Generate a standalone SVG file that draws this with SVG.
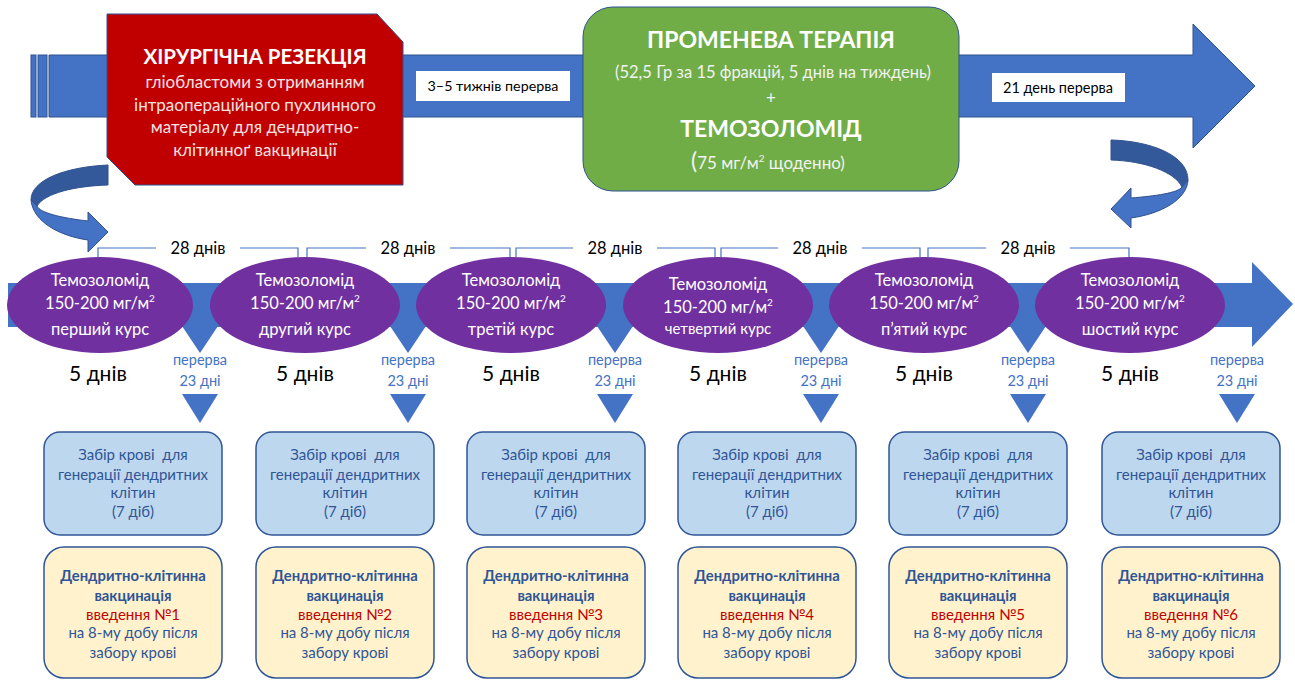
<svg xmlns="http://www.w3.org/2000/svg" width="1295" height="681" viewBox="0 0 1295 681">
<defs>
<style>
.t{font-family:Lato,"Liberation Sans",sans-serif;text-anchor:middle}
.b{font-weight:bold}
.arrow{fill:#4472C4;stroke:#2F528F;stroke-width:1}
.dark{fill:#34599A;stroke:#2F528F;stroke-width:1}
.ell{fill:#7030A0}
.et{fill:#FFFFFF;font-size:16.5px}
.days{fill:#000;font-size:21px}
.br{fill:none;stroke:#4472C4;stroke-width:1.2}
.d28{fill:#000;font-size:16.5px}
.gap{fill:#4472C4;font-size:14.5px}
.tri{fill:#4472C4}
.blue{fill:#BDD7EE;stroke:#2F5597;stroke-width:1.5}
.yel{fill:#FFF2CC;stroke:#2F5597;stroke-width:1.5}
.bt{fill:#2F5597;font-size:15px;white-space:pre}
.vb{font-weight:bold;font-size:14.8px}
.red{fill:#C00000}
</style>
</defs>

<g id="top-arrow">
<rect class="arrow" x="31" y="55" width="5" height="62"/>
<rect class="arrow" x="38" y="55" width="9" height="62"/>
<polygon class="arrow" points="49,55 1193,55 1193,24 1255,86 1193,148 1193,117 49,117"/>
</g>

<g id="surgery">
<polygon fill="#C00000" stroke="#2F528F" stroke-width="1" points="107,14 377,14 403,42 403,185 135,185 107,157"/>
<text class="t b" x="255" y="64" fill="#FFFFFF" font-size="20.5px">ХІРУРГІЧНА РЕЗЕКЦІЯ</text>
<text class="t" fill="#F6E2E2" font-size="17px"><tspan x="255" y="88">гліобластоми з отриманням</tspan><tspan x="255" y="111">інтраопераційного пухлинного</tspan><tspan x="255" y="133">матеріалу для дендритно-</tspan><tspan x="255" y="156">клітинноґ вакцинації</tspan></text>
</g>

<g id="gap1">
<rect x="416" y="71" width="154" height="30" fill="#FFFFFF"/>
<text class="t" x="493" y="91" fill="#000" font-size="14.3px">3–5 тижнів перерва</text>
</g>

<g id="radiotherapy">
<rect x="583" y="7" width="376" height="184" rx="30" fill="#70AD47" stroke="#2F528F" stroke-width="1"/>
<text class="t b" x="771" y="48" fill="#FFFFFF" font-size="23px">ПРОМЕНЕВА ТЕРАПІЯ</text>
<text class="t" x="773" y="78" fill="#F2F2F2" font-size="16.5px">(52,5 Гр за 15 фракцій, 5 днів на тиждень)</text>
<text class="t" x="771" y="104" fill="#F2F2F2" font-size="17px">+</text>
<text class="t b" x="771" y="137" fill="#FFFFFF" font-size="23px">ТЕМОЗОЛОМІД</text>
<text class="t" x="768" y="169" fill="#F2F2F2" font-size="17px"><tspan font-size="23px">(</tspan>75 мг/м<tspan font-size="10px" dy="-7">2</tspan><tspan dy="7"> щоденно)</tspan></text>
</g>

<g id="gap2">
<rect x="992" y="73" width="133" height="29" fill="#FFFFFF"/>
<text class="t" x="1058" y="93" fill="#000" font-size="14.5px">21 день перерва</text>
</g>

<g id="curve-left">
<path class="dark" d="M108,165 C65,167 31,180 31,200 L37,206 C45,193 75,186 108,185 Z"/>
<path class="arrow" d="M31,200 C33,222 60,236 88,240 L88,252 L108,232 L88,212 L88,221 C62,218 40,213 37,206 Z"/>
</g>

<g id="curve-right">
<path class="dark" d="M1111,140 C1150,141 1188,155 1188,180 L1182,187 C1175,172 1145,161 1111,160 Z"/>
<path class="arrow" d="M1188,180 C1187,200 1160,214 1131,218 L1131,228 L1111,209 L1131,188 L1131,198 C1155,196 1178,193 1182,187 Z"/>
</g>

<g id="timeline">
<polygon fill="#4472C4" points="8,283 1252,283 1252,262 1293,304 1252,347 1252,327 8,327"/>
<polygon class="tri" points="182,326 218,326 200,353"/>
<polygon class="tri" points="390,326 426,326 408,353"/>
<polygon class="tri" points="597,326 633,326 615,353"/>
<polygon class="tri" points="803,326 839,326 821,353"/>
<polygon class="tri" points="1010,326 1046,326 1028,353"/>
</g>

<g id="connectors">
<path class="br" d="M98,257 V248 H156 M240,248 H298 V257"/>
<path class="br" d="M307,257 V248 H366 M450,248 H510 V257"/>
<path class="br" d="M516,257 V248 H573 M657,248 H715 V257"/>
<path class="br" d="M721,257 V248 H778 M862,248 H920 V257"/>
<path class="br" d="M928,257 V248 H986 M1070,248 H1129 V257"/>
<text class="t d28" x="198" y="254">28 днів</text>
<text class="t d28" x="408" y="254">28 днів</text>
<text class="t d28" x="615" y="254">28 днів</text>
<text class="t d28" x="820" y="254">28 днів</text>
<text class="t d28" x="1028" y="254">28 днів</text>
<polygon class="tri" points="182,394 218,394 200,423"/>
<polygon class="tri" points="390,394 426,394 408,423"/>
<polygon class="tri" points="597,394 633,394 615,423"/>
<polygon class="tri" points="803,394 839,394 821,423"/>
<polygon class="tri" points="1010,394 1046,394 1028,423"/>
<polygon class="tri" points="1219,394 1255,394 1237,423"/>
</g>

<g id="course1">
<ellipse class="ell" cx="100" cy="305" rx="93" ry="48"/>
<text class="t et"><tspan x="100" y="286">Темозоломід</tspan><tspan x="100" y="309">150-200 мг/м<tspan font-size="10px" dy="-7">2</tspan></tspan><tspan x="100" y="335">перший курс</tspan></text>
<text class="t days" x="98" y="381">5 днів</text>
<text class="t gap"><tspan x="200" y="365">перерва</tspan><tspan x="200" y="386">23 дні</tspan></text>
</g>
<g id="course2">
<ellipse class="ell" cx="305" cy="305" rx="95" ry="48"/>
<text class="t et"><tspan x="305" y="286">Темозоломід</tspan><tspan x="305" y="309">150-200 мг/м<tspan font-size="10px" dy="-7">2</tspan></tspan><tspan x="305" y="335">другий курс</tspan></text>
<text class="t days" x="305" y="381">5 днів</text>
<text class="t gap"><tspan x="408" y="365">перерва</tspan><tspan x="408" y="386">23 дні</tspan></text>
</g>
<g id="course3">
<ellipse class="ell" cx="511" cy="305" rx="95" ry="48"/>
<text class="t et"><tspan x="511" y="286">Темозоломід</tspan><tspan x="511" y="309">150-200 мг/м<tspan font-size="10px" dy="-7">2</tspan></tspan><tspan x="511" y="335">третій курс</tspan></text>
<text class="t days" x="511" y="381">5 днів</text>
<text class="t gap"><tspan x="615" y="365">перерва</tspan><tspan x="615" y="386">23 дні</tspan></text>
</g>
<g id="course4">
<ellipse class="ell" cx="718" cy="305" rx="95" ry="48"/>
<text class="t et"><tspan x="718" y="290">Темозоломід</tspan><tspan x="718" y="313">150-200 мг/м<tspan font-size="10px" dy="-7">2</tspan></tspan><tspan x="718" y="334" font-size="15px">четвертий курс</tspan></text>
<text class="t days" x="718" y="381">5 днів</text>
<text class="t gap"><tspan x="821" y="365">перерва</tspan><tspan x="821" y="386">23 дні</tspan></text>
</g>
<g id="course5">
<ellipse class="ell" cx="924" cy="305" rx="95" ry="48"/>
<text class="t et"><tspan x="924" y="286">Темозоломід</tspan><tspan x="924" y="309">150-200 мг/м<tspan font-size="10px" dy="-7">2</tspan></tspan><tspan x="924" y="335">п’ятий курс</tspan></text>
<text class="t days" x="924" y="381">5 днів</text>
<text class="t gap"><tspan x="1028" y="365">перерва</tspan><tspan x="1028" y="386">23 дні</tspan></text>
</g>
<g id="course6">
<ellipse class="ell" cx="1130" cy="305" rx="95" ry="48"/>
<text class="t et"><tspan x="1130" y="286">Темозоломід</tspan><tspan x="1130" y="309">150-200 мг/м<tspan font-size="10px" dy="-7">2</tspan></tspan><tspan x="1130" y="335">шостий курс</tspan></text>
<text class="t days" x="1130" y="381">5 днів</text>
<text class="t gap"><tspan x="1237" y="365">перерва</tspan><tspan x="1237" y="386">23 дні</tspan></text>
</g>

<g id="blood1"><rect class="blue" x="44" y="432" width="178" height="103" rx="16"/>
<text class="t bt"><tspan x="133" y="460">Забір крові  для</tspan><tspan x="133" y="480">генерації дендритних</tspan><tspan x="133" y="498">клітин</tspan><tspan x="133" y="517">(7 діб)</tspan></text></g>
<g id="blood2"><rect class="blue" x="256" y="432" width="178" height="103" rx="16"/>
<text class="t bt"><tspan x="345" y="460">Забір крові  для</tspan><tspan x="345" y="480">генерації дендритних</tspan><tspan x="345" y="498">клітин</tspan><tspan x="345" y="517">(7 діб)</tspan></text></g>
<g id="blood3"><rect class="blue" x="467" y="432" width="178" height="103" rx="16"/>
<text class="t bt"><tspan x="556" y="460">Забір крові  для</tspan><tspan x="556" y="480">генерації дендритних</tspan><tspan x="556" y="498">клітин</tspan><tspan x="556" y="517">(7 діб)</tspan></text></g>
<g id="blood4"><rect class="blue" x="678" y="432" width="178" height="103" rx="16"/>
<text class="t bt"><tspan x="767" y="460">Забір крові  для</tspan><tspan x="767" y="480">генерації дендритних</tspan><tspan x="767" y="498">клітин</tspan><tspan x="767" y="517">(7 діб)</tspan></text></g>
<g id="blood5"><rect class="blue" x="889" y="432" width="178" height="103" rx="16"/>
<text class="t bt"><tspan x="978" y="460">Забір крові  для</tspan><tspan x="978" y="480">генерації дендритних</tspan><tspan x="978" y="498">клітин</tspan><tspan x="978" y="517">(7 діб)</tspan></text></g>
<g id="blood6"><rect class="blue" x="1102" y="432" width="178" height="103" rx="16"/>
<text class="t bt"><tspan x="1191" y="460">Забір крові  для</tspan><tspan x="1191" y="480">генерації дендритних</tspan><tspan x="1191" y="498">клітин</tspan><tspan x="1191" y="517">(7 діб)</tspan></text></g>

<g id="vacc1"><rect class="yel" x="44" y="547" width="178" height="131" rx="20"/>
<text class="t bt"><tspan x="133" y="581" class="vb">Дендритно-клітинна</tspan><tspan x="133" y="601" class="vb">вакцинація</tspan><tspan x="133" y="620" class="red">введення №1</tspan><tspan x="133" y="638">на 8-му добу після</tspan><tspan x="133" y="658">забору крові</tspan></text></g>
<g id="vacc2"><rect class="yel" x="256" y="547" width="178" height="131" rx="20"/>
<text class="t bt"><tspan x="345" y="581" class="vb">Дендритно-клітинна</tspan><tspan x="345" y="601" class="vb">вакцинація</tspan><tspan x="345" y="620" class="red">введення №2</tspan><tspan x="345" y="638">на 8-му добу після</tspan><tspan x="345" y="658">забору крові</tspan></text></g>
<g id="vacc3"><rect class="yel" x="467" y="547" width="178" height="131" rx="20"/>
<text class="t bt"><tspan x="556" y="581" class="vb">Дендритно-клітинна</tspan><tspan x="556" y="601" class="vb">вакцинація</tspan><tspan x="556" y="620" class="red">введення №3</tspan><tspan x="556" y="638">на 8-му добу після</tspan><tspan x="556" y="658">забору крові</tspan></text></g>
<g id="vacc4"><rect class="yel" x="678" y="547" width="178" height="131" rx="20"/>
<text class="t bt"><tspan x="767" y="581" class="vb">Дендритно-клітинна</tspan><tspan x="767" y="601" class="vb">вакцинація</tspan><tspan x="767" y="620" class="red">введення №4</tspan><tspan x="767" y="638">на 8-му добу після</tspan><tspan x="767" y="658">забору крові</tspan></text></g>
<g id="vacc5"><rect class="yel" x="889" y="547" width="178" height="131" rx="20"/>
<text class="t bt"><tspan x="978" y="581" class="vb">Дендритно-клітинна</tspan><tspan x="978" y="601" class="vb">вакцинація</tspan><tspan x="978" y="620" class="red">введення №5</tspan><tspan x="978" y="638">на 8-му добу після</tspan><tspan x="978" y="658">забору крові</tspan></text></g>
<g id="vacc6"><rect class="yel" x="1102" y="547" width="178" height="131" rx="20"/>
<text class="t bt"><tspan x="1191" y="581" class="vb">Дендритно-клітинна</tspan><tspan x="1191" y="601" class="vb">вакцинація</tspan><tspan x="1191" y="620" class="red">введення №6</tspan><tspan x="1191" y="638">на 8-му добу після</tspan><tspan x="1191" y="658">забору крові</tspan></text></g>
</svg>
